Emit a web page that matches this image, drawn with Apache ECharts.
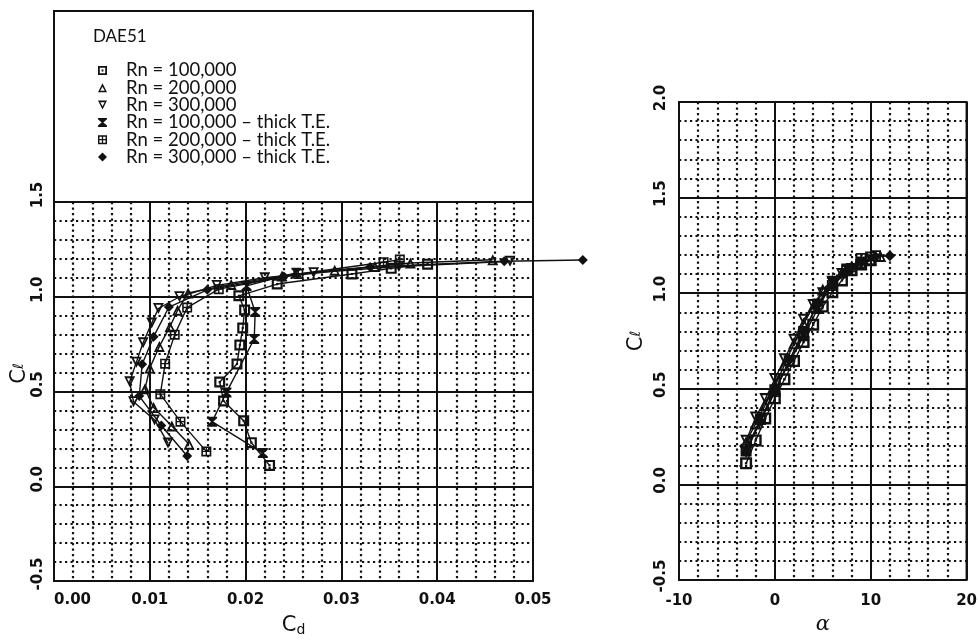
<!DOCTYPE html>
<html>
<head>
<meta charset="utf-8">
<script src="https://cdn.jsdelivr.net/npm/echarts@6/dist/echarts.min.js"></script>
<style>html,body{margin:0;padding:0;background:#fff}#c{width:980px;height:642px}</style>
</head>
<body>
<div id="c"></div>
<script>
// ---- data ----
const seriesNames = ['Rn = 100,000','Rn = 200,000','Rn = 300,000','Rn = 100,000 – thick T.E.','Rn = 200,000 – thick T.E.','Rn = 300,000 – thick T.E.'];
// Rn = 100,000
const alpha100 = [-3,-2,-1,0,1,2,3,4,5,6,7,8,9,10];
const cl100 = [0.11,0.23,0.345,0.45,0.55,0.645,0.745,0.835,0.93,1.005,1.067,1.12,1.15,1.172];
const cd100 = [0.0225,0.0206,0.0198,0.0177,0.0173,0.0191,0.0194,0.0197,0.0199,0.0193,0.0233,0.0311,0.0352,0.0390];
// Rn = 200,000
const alpha200 = [-3,-2,-1,0,1,2,3,4,5,6,7,8,9,10,11];
const cl200 = [0.222,0.318,0.415,0.514,0.624,0.738,0.842,0.929,1.02,1.065,1.11,1.14,1.16,1.178,1.195];
const cd200 = [0.0141,0.0123,0.0104,0.0095,0.0100,0.0110,0.0121,0.0129,0.0140,0.0185,0.0238,0.0293,0.0335,0.0372,0.0458];
// Rn = 300,000
const alpha300 = [-3,-2,-1,0,1,2,3,4,5,6,7,8,9,10];
const cl300 = [0.228,0.35,0.446,0.551,0.655,0.757,0.861,0.938,1.0,1.06,1.10,1.127,1.16,1.187];
const cd300 = [0.0119,0.0105,0.0083,0.0079,0.0086,0.0093,0.0102,0.0109,0.0131,0.0170,0.0220,0.0271,0.0360,0.0476];
// Rn = 100,000 thick T.E.
const alpha100t = [-3,-1.5,0,3,4.5,6,7.5];
const cl100t = [0.175,0.341,0.495,0.777,0.92,1.057,1.127];
const cd100t = [0.0218,0.0165,0.0180,0.0209,0.0210,0.0201,0.0253];
// Rn = 200,000 thick T.E.
const alpha200t = [-3,-1.5,0,1.5,3,4.5,6,7.5,9,10.5];
const cl200t = [0.184,0.341,0.486,0.647,0.80,0.943,1.04,1.12,1.182,1.196];
const cd200t = [0.0159,0.0132,0.0111,0.0116,0.0126,0.0139,0.0172,0.0255,0.0344,0.0361];
// Rn = 300,000 thick T.E.
const alpha300t = [-3,-1.5,0,1.5,3,4.5,6,7.5,9,10.5,12];
const cl300t = [0.17,0.33,0.484,0.65,0.795,0.95,1.04,1.11,1.16,1.19,1.196];
const cd300t = [0.0139,0.0112,0.0089,0.0092,0.0104,0.0120,0.0160,0.0240,0.0330,0.0470,0.0552];
// tick labels
const cdTicks = ['0.00','0.01','0.02','0.03','0.04','0.05'];
const clTicksLeft = ['-0.5','0.0','0.5','1.0','1.5'];
const alphaTicks = ['-10','0','10','20'];
const clTicksRight = ['-0.5','0.0','0.5','1.0','1.5','2.0'];

// ---- styling ----
const symbols = [
  'path://M0,0H10V10H0Z M2,2V8H8V2Z M4,4H6V6H4Z',
  'path://M5,0L10,10H0Z M5,3.8L2.5,8.3H7.5Z',
  'path://M0,0H10L5,10Z M2.5,1.7L5,6.2L7.5,1.7Z',
  'path://M0,0H10V1.6L6,5L10,8.4V10H0V8.4L4,5L0,1.6Z',
  'path://M0,0H10V10H0Z M1.6,1.6V4.3H4.3V1.6Z M5.7,1.6V4.3H8.4V1.6Z M1.6,5.7V8.4H4.3V5.7Z M5.7,5.7V8.4H8.4V5.7Z',
  'diamond'
];
const sizes = [11,11,11,10,10,10];
const leftData = [[cd100,cl100],[cd200,cl200],[cd300,cl300],[cd100t,cl100t],[cd200t,cl200t],[cd300t,cl300t]];
const rightData = [[alpha100,cl100],[alpha200,cl200],[alpha300,cl300],[alpha100t,cl100t],[alpha200t,cl200t],[alpha300t,cl300t]];
const zip = (a,b)=>a.map((v,i)=>[v,b[i]]);

const tickFont = {fontFamily:'DejaVu Sans',fontWeight:'bold',fontSize:15,color:'#111'};
const minorLine = {show:true,lineStyle:{color:'#111',width:2.2,type:[2.2,3.3]}};
const majorLine = {show:true,lineStyle:{color:'#111',width:2}};

const series = [];
seriesNames.forEach((n,i)=>{
  // left polar: the last series uses an overlay axis (same scale, wider range) so the off-axis point keeps its line
  const ov = (i===5) ? 2 : 0;
  series.push({name:n,type:'line',xAxisIndex:ov,yAxisIndex:ov,data:zip(leftData[i][0],leftData[i][1]),
    symbol:symbols[i],symbolSize:sizes[i],showAllSymbol:true,clip:false,
    lineStyle:{color:'#111',width:1.4},itemStyle:{color:'#111',opacity:1},z:3,animation:false});
  series.push({name:n,type:'line',xAxisIndex:1,yAxisIndex:1,data:zip(rightData[i][0],rightData[i][1]),
    symbol:symbols[i],symbolSize:sizes[i]+1,showAllSymbol:true,clip:false,
    lineStyle:{color:'#111',width:1.4},itemStyle:{color:'#111',opacity:1},z:3,animation:false});
});

const chart = echarts.init(document.getElementById('c'),null,{renderer:'canvas'});
chart.setOption({
  backgroundColor:'#fff',
  animation:false,
  title:{text:'DAE51',left:88,top:23,textStyle:{fontFamily:'Lato',fontWeight:'normal',fontSize:17,color:'#111'}},
  legend:{orient:'vertical',left:93,top:56,itemGap:-1.7,itemWidth:9,itemHeight:9,
    textStyle:{fontFamily:'Lato',fontSize:18.5,color:'#111',padding:[0,0,0,14]},
    data:seriesNames.map((n,i)=>({name:n,icon:symbols[i],itemStyle:{color:'#111'}})),
    selectedMode:false},
  graphic:[{type:'rect',shape:{x:54,y:11,width:479,height:191},style:{fill:'none',stroke:'#111',lineWidth:2},silent:true}],
  grid:[
    {left:54,top:202,width:479,height:382,show:true,borderColor:'#111',borderWidth:2,backgroundColor:'transparent'},
    {left:679,top:102,width:293,height:478,show:true,borderColor:'#111',borderWidth:2,backgroundColor:'transparent'},
    {left:54,top:202,width:574.8,height:382,show:false}
  ],
  xAxis:[
    {type:'value',gridIndex:0,min:0,max:0.05,interval:0.01,
      axisLine:{show:false},axisTick:{show:false},
      axisLabel:Object.assign({margin:12,alignMinLabel:'left',formatter:(v)=>cdTicks[Math.round(v/0.01)]},tickFont),
      splitLine:majorLine,minorTick:{show:false,splitNumber:5},minorSplitLine:minorLine,
      name:'{c|C}{s|d}',nameLocation:'middle',nameGap:34,
      nameTextStyle:{rich:{c:{fontFamily:'DejaVu Sans',fontSize:21,color:'#111'},s:{fontFamily:'DejaVu Sans',fontSize:14,color:'#111',verticalAlign:'bottom',padding:[8,0,0,0]}}}},
    {type:'value',gridIndex:1,min:-10,max:20,interval:10,
      axisLine:{show:false},axisTick:{show:false},
      axisLabel:Object.assign({margin:14,formatter:(v)=>alphaTicks[Math.round((v+10)/10)]},tickFont),
      splitLine:majorLine,minorTick:{show:false,splitNumber:5},minorSplitLine:minorLine,
      name:'α',nameLocation:'middle',nameGap:34,
      nameTextStyle:{fontFamily:'DejaVu Serif',fontStyle:'italic',fontSize:21,color:'#111'}},
    {type:'value',gridIndex:2,min:0,max:0.06,show:false}
  ],
  yAxis:[
    {type:'value',gridIndex:0,min:-0.5,max:1.5,interval:0.5,
      axisLine:{show:false},axisTick:{show:false},
      axisLabel:Object.assign({margin:8,rotate:90,padding:[0,0,0,14],formatter:(v)=>clTicksLeft[Math.round((v+0.5)/0.5)]},tickFont),
      splitLine:majorLine,minorTick:{show:false,splitNumber:5},minorSplitLine:minorLine,
      name:'{c|C}{s|ℓ}',nameLocation:'middle',nameGap:24,nameRotate:90,
      nameTextStyle:{padding:[0,0,0,36],rich:{c:{fontFamily:'DejaVu Sans',fontSize:21,color:'#111'},s:{fontFamily:'DejaVu Sans',fontSize:14,color:'#111'}}}},
    {type:'value',gridIndex:1,min:-0.5,max:2.0,interval:0.5,
      axisLine:{show:false},axisTick:{show:false},
      axisLabel:Object.assign({margin:10,rotate:90,padding:[0,0,0,8],formatter:(v)=>clTicksRight[Math.round((v+0.5)/0.5)]},tickFont),
      splitLine:majorLine,minorTick:{show:false,splitNumber:5},minorSplitLine:minorLine,
      name:'{c|C}{s|ℓ}',nameLocation:'middle',nameGap:32,nameRotate:90,
      nameTextStyle:{rich:{c:{fontFamily:'DejaVu Sans',fontSize:21,color:'#111'},s:{fontFamily:'DejaVu Sans',fontSize:14,color:'#111'}}}},
    {type:'value',gridIndex:2,min:-0.5,max:1.5,show:false}
  ],
  series:series
});
</script>
</body>
</html>
